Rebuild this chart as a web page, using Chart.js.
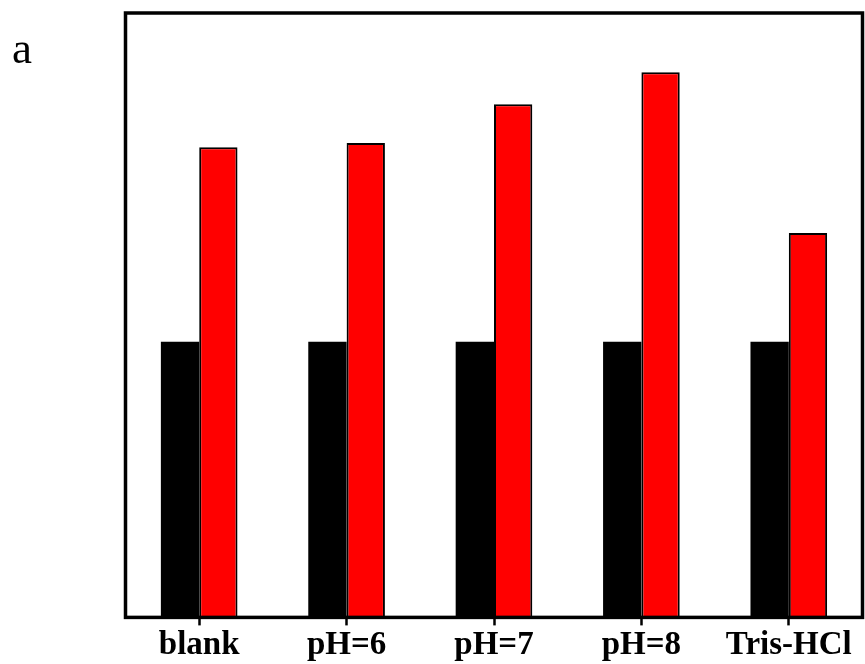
<!DOCTYPE html>
<html>
<head>
<meta charset="utf-8">
<script src="https://cdn.jsdelivr.net/npm/chart.js@4.4.1/dist/chart.umd.min.js"></script>
<style>
  html, body { margin: 0; padding: 0; background: #ffffff; }
  #wrap { position: relative; width: 865px; height: 664px; }
  #panel { position: absolute; left: 12px; top: 26px; font-family: "Liberation Serif", serif; font-size: 45px; color: #000; line-height: 1; }
</style>
</head>
<body>
<div id="wrap">
  <canvas id="c" width="865" height="664"></canvas>
  <div id="panel">a</div>
</div>
<script>
// Sample conditions along the x axis
const categories = ['blank', 'pH=6', 'pH=7', 'pH=8', 'Tris-HCl'];
// Reference (black) and treated (red) responses, relative units
const controlValues = [45.6, 45.6, 45.6, 45.6, 45.6];
const treatedValues = [77.8, 78.5, 84.9, 90.2, 63.6];
const yMin = 0;
const yMax = 100;

// Frame around the whole plot area
const frame = {
  id: 'frame',
  afterDraw(chart) {
    const a = chart.chartArea;
    const ctx = chart.ctx;
    ctx.save();
    ctx.strokeStyle = '#000';
    ctx.lineWidth = 3.5;
    ctx.strokeRect(a.left, a.top, a.right - a.left, a.bottom - a.top);
    ctx.restore();
  }
};

new Chart(document.getElementById('c'), {
  type: 'bar',
  data: {
    labels: categories,
    datasets: [
      { data: controlValues, backgroundColor: '#000000', borderColor: '#000000', borderWidth: 0 },
      { data: treatedValues, backgroundColor: '#ff0000', borderColor: '#000000', borderWidth: 2 }
    ]
  },
  options: {
    responsive: false,
    animation: false,
    layout: { padding: { left: 125.5, right: 2.5, top: 13, bottom: -1 } },
    plugins: { legend: { display: false }, tooltip: { enabled: false } },
    datasets: { bar: { categoryPercentage: 0.52, barPercentage: 1.0 } },
    scales: {
      x: {
        grid: { display: true, drawOnChartArea: false, drawTicks: true, offset: false, tickLength: 8, tickWidth: 2.5, tickColor: '#000' },
        border: { display: false },
        ticks: { color: '#000', padding: 0, font: { family: 'Liberation Serif', size: 33, weight: 'bold' } }
      },
      y: {
        display: false,
        min: yMin,
        max: yMax
      }
    }
  },
  plugins: [frame]
});
</script>
</body>
</html>
